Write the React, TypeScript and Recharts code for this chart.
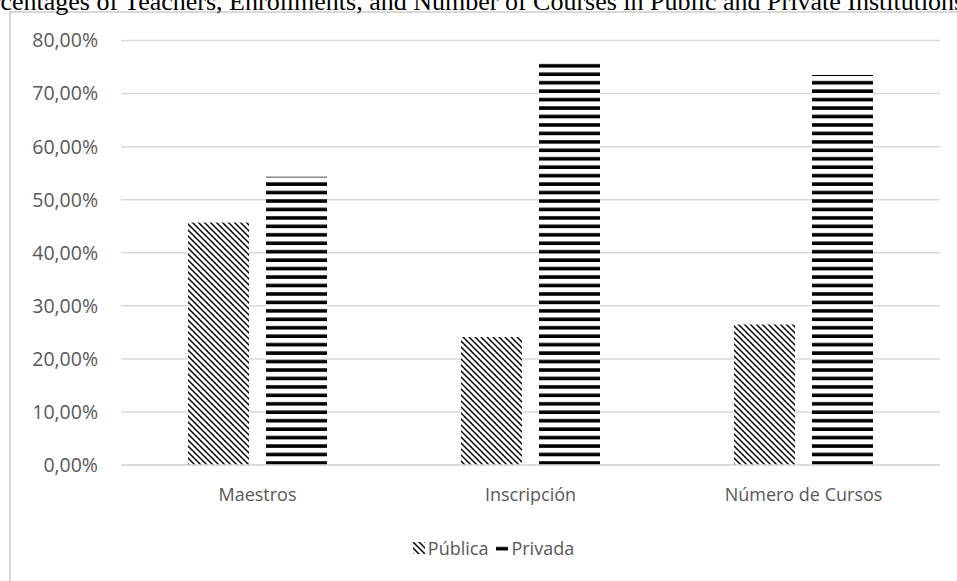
import React from 'react'
import { BarChart, Bar, XAxis, YAxis, CartesianGrid, Legend } from 'recharts'

const CATEGORIES = ['Maestros', 'Inscripción', 'Número de Cursos']
const PUBLICA = [45.7, 24.1, 26.5]
const PRIVADA = [54.3, 75.9, 73.5]
const Y_TICKS = [0, 10, 20, 30, 40, 50, 60, 70, 80]

const TITLE = 'Percentages of Teachers, Enrollments, and Number of Courses in Public and Private Institutions'

const data = CATEGORIES.map((name, i) => ({ name, publica: PUBLICA[i], privada: PRIVADA[i] }))

const GRAY = '#595959'
const LINE = '#d9d9d9'
const FONT = '"Open Sans", sans-serif'

const fmtPct = (v: number) => `${v.toFixed(2).replace('.', ',')}%`

function HatchDefs({ prefix }: { prefix: string }) {
  return (
    <defs>
      <pattern id={`${prefix}-hatch`} patternUnits="userSpaceOnUse" width={6} height={6}>
        <rect width={6} height={6} fill="#fff" />
        <path d="M-1,-1 L7,7 M-1,5 L1,7 M5,-1 L7,1" stroke="#000" strokeWidth={1.5} />
      </pattern>
      <pattern id={`${prefix}-stripes`} patternUnits="userSpaceOnUse" width={10} height={8.45}>
        <rect width={10} height={8.45} fill="#fff" />
        <rect y={4.9} width={10} height={3.6} fill="#000" />
      </pattern>
    </defs>
  )
}

function LegendBox() {
  const items = [
    { key: 'pub', label: 'Pública', fill: 'url(#lg-hatch)' },
    { key: 'priv', label: 'Privada', fill: 'url(#lg-stripes)' },
  ]
  return (
    <div style={{ display: 'flex', justifyContent: 'center', gap: 8, paddingLeft: 30, fontFamily: FONT, fontSize: 18, color: GRAY }}>
      {items.map((it) => (
        <span key={it.key} style={{ display: 'flex', alignItems: 'center', gap: 3 }}>
          <svg width={12} height={12}>
            <HatchDefs prefix="lg" />
            <rect width={12} height={12} fill={it.fill} />
          </svg>
          {it.label}
        </span>
      ))}
    </div>
  )
}

export default function App() {
  return (
    <div style={{ position: 'fixed', left: 0, top: 0, width: 957, height: 581, overflow: 'hidden', background: '#fff' }}>
      {/* chart frame, cut off at the right and bottom */}
      <div style={{ position: 'absolute', left: 9, top: 11, width: 1100, height: 700, border: `2px solid ${LINE}`, boxSizing: 'border-box' }} />
      <svg width={957} height={30} style={{ position: 'absolute', left: 0, top: 0 }}>
        <text x={465} y={10} textAnchor="middle" fontFamily='"Liberation Serif", serif' fontSize={26} fill="#000">
          {TITLE}
        </text>
      </svg>
      <div style={{ position: 'absolute', left: 0, top: 0 }}>
        <BarChart
          width={957}
          height={581}
          data={data}
          margin={{ top: 40.5, right: 17, left: 0, bottom: 56 }}
          barCategoryGap={67}
          barGap={17}
        >
          <HatchDefs prefix="bar" />
          <CartesianGrid vertical={false} stroke={LINE} strokeWidth={1.5} />
          <XAxis
            dataKey="name"
            height={60}
            axisLine={{ stroke: LINE, strokeWidth: 1.5 }}
            tickLine={false}
            tickSize={0}
            tickMargin={23}
            tick={{ fill: GRAY, fontSize: 18, fontFamily: FONT }}
          />
          <YAxis
            width={121}
            domain={[0, 80]}
            ticks={Y_TICKS}
            axisLine={false}
            tickLine={false}
            tickSize={0}
            tickMargin={23}
            tickFormatter={fmtPct}
            tick={{ fill: GRAY, fontSize: 19.5, fontFamily: FONT }}
          />
          <Legend
            layout="horizontal"
            verticalAlign="middle"
            align="center"
            wrapperStyle={{ top: 536, left: 0, width: 957 }}
            content={() => <LegendBox />}
          />
          <Bar dataKey="publica" name="Pública" fill="url(#bar-hatch)" barSize={61} isAnimationActive={false} />
          <Bar dataKey="privada" name="Privada" fill="url(#bar-stripes)" barSize={61} isAnimationActive={false} />
        </BarChart>
      </div>
    </div>
  )
}
